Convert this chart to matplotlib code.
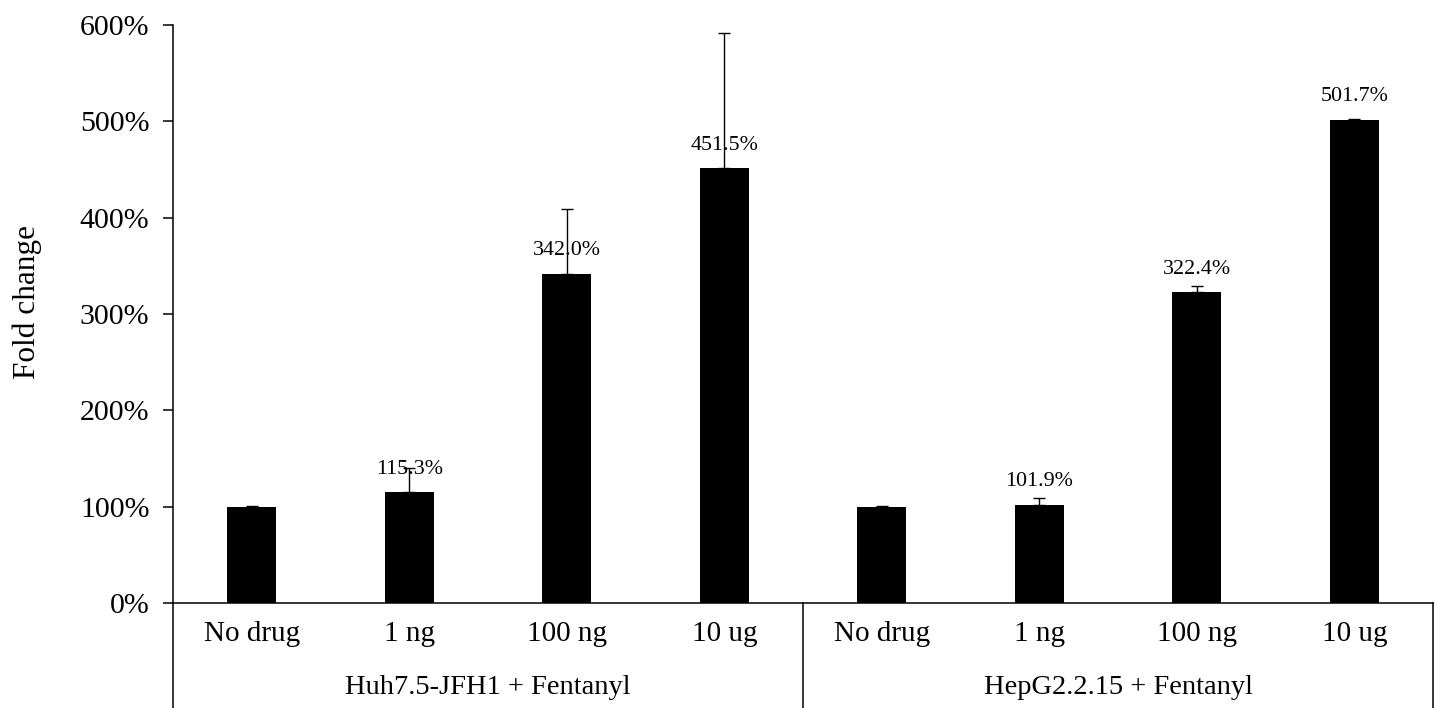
import matplotlib
matplotlib.use("Agg")
import matplotlib.pyplot as plt
from matplotlib.ticker import FuncFormatter

plt.rcParams["font.family"] = ["Liberation Serif", "DejaVu Serif"]

# Doses tested in each cell line
doses = ["No drug", "1 ng", "100 ng", "10 ug", "No drug", "1 ng", "100 ng", "10 ug"]
groups = ["Huh7.5-JFH1 + Fentanyl", "HepG2.2.15 + Fentanyl"]

# Fold change (%) relative to untreated cells, with upper error (SD)
huh_values = [100.0, 115.3, 342.0, 451.5]
huh_errors = [0.6, 25.0, 66.7, 140.5]
hep_values = [100.0, 101.9, 322.4, 501.7]
hep_errors = [0.6, 7.5, 7.0, 1.0]

# Which bars carry a value label
huh_labeled = [False, True, True, True]
hep_labeled = [False, True, True, True]

values = huh_values + hep_values
errors = huh_errors + hep_errors
labeled = huh_labeled + hep_labeled
x = list(range(len(values)))

W, H = 1435, 708
fig = plt.figure(figsize=(W / 100, H / 100), dpi=100)
ax = fig.add_axes([173 / W, 105 / H, 1260 / W, 578 / H])

ax.bar(x, values, width=0.31, color="black", zorder=2)
ax.errorbar(x, values, yerr=[[0] * len(errors), errors], fmt="none",
            ecolor="black", elinewidth=1.0, capsize=4.3, capthick=1.0,
            zorder=4)

for xi, v, show in zip(x, values, labeled):
    if show:
        ax.annotate(f"{v:.1f}%", (xi, v), xytext=(0, 16.5),
                    textcoords="offset points", ha="center", va="center",
                    fontsize=15.8, zorder=3)

ax.set_xlim(-0.5, len(values) - 0.5)
ax.set_ylim(0, 600)
ax.set_yticks(range(0, 601, 100))
ax.yaxis.set_major_formatter(FuncFormatter(lambda v, _: f"{v:.0f}%"))
ax.tick_params(axis="y", direction="out", length=7, width=1.1, pad=10,
               labelsize=21.5)

ax.set_xticks(x, doses)
ax.tick_params(axis="x", length=0, pad=13, labelsize=21)

for side in ("top", "right"):
    ax.spines[side].set_visible(False)
for side in ("left", "bottom"):
    ax.spines[side].set_linewidth(1.1)

# Category table below the axis: divider lines and group names
trans = ax.get_xaxis_transform()
depth = -105 / 578
for xv in (-0.5, 3.5, 7.5):
    ax.plot([xv, xv], [0, depth], transform=trans, color="black",
            lw=1.1, clip_on=False)
for i, name in enumerate(groups):
    ax.text(1.5 + 4 * i, -85 / 578, name, transform=trans, ha="center",
            va="center", fontsize=20.5)

fig.text(27 / W, 1 - 302 / H, "Fold change", rotation=90, ha="center",
         va="center", fontsize=22.5)

fig.savefig("out.png", dpi=100)
